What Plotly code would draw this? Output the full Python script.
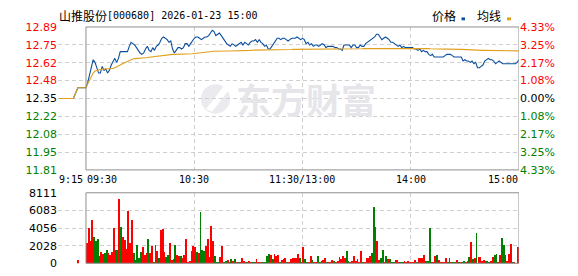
import plotly.graph_objects as go

# ---------------- data ----------------
prev_close = 12.35

# pre-market (9:15-9:30), minutes relative to 9:30
pre_minutes = [-15, -7, -4.5, 0]
pre_price = [12.35, 12.35, 12.43, 12.43]
pre_avg = [12.35, 12.35, 12.43, 12.43]
pre_vol_minute = [-5]
pre_vol = [440]
pre_vol_dir = ["r"]

# trading minutes 0..240 (9:30-11:30 / 13:00-15:00)
minutes = list(range(241))
price = [
    12.43, 12.47, 12.53, 12.60, 12.64, 12.62, 12.58, 12.54, 12.54, 12.59, 12.56, 12.57, 12.54, 12.56, 12.60, 12.63, 12.65, 12.62, 12.65, 12.70,
    12.70, 12.70, 12.70, 12.70, 12.74, 12.77, 12.76, 12.75, 12.73, 12.71, 12.69, 12.68, 12.69, 12.72, 12.74, 12.71, 12.70, 12.73, 12.71, 12.74,
    12.75, 12.77, 12.80, 12.81, 12.80, 12.79, 12.77, 12.78, 12.72, 12.69, 12.71, 12.73, 12.73, 12.72, 12.73, 12.76, 12.76, 12.74, 12.76, 12.78,
    12.80, 12.81, 12.81, 12.80, 12.79, 12.80, 12.81, 12.81, 12.82, 12.84, 12.86, 12.85, 12.82, 12.83, 12.84, 12.82, 12.80, 12.78, 12.76, 12.75,
    12.74, 12.76, 12.75, 12.74, 12.75, 12.76, 12.77, 12.75, 12.77, 12.76, 12.75, 12.77, 12.78, 12.78, 12.79, 12.77, 12.79, 12.77, 12.76, 12.74,
    12.75, 12.72, 12.72, 12.74, 12.76, 12.78, 12.80, 12.80, 12.79, 12.80, 12.80, 12.79, 12.78, 12.79, 12.80, 12.80, 12.80, 12.81, 12.80, 12.79,
    12.80, 12.79, 12.76, 12.77, 12.75, 12.76, 12.74, 12.75, 12.75, 12.74, 12.75, 12.76, 12.75, 12.73, 12.74, 12.74, 12.74, 12.74, 12.73, 12.73,
    12.72, 12.72, 12.71, 12.75, 12.75, 12.75, 12.75, 12.73, 12.75, 12.75, 12.73, 12.73, 12.75, 12.74, 12.74, 12.76, 12.77, 12.78, 12.79, 12.80,
    12.81, 12.83, 12.83, 12.81, 12.79, 12.80, 12.81, 12.80, 12.79, 12.77, 12.77, 12.76, 12.75, 12.74, 12.75, 12.73, 12.74, 12.73, 12.73, 12.73,
    12.73, 12.73, 12.72, 12.72, 12.71, 12.72, 12.70, 12.71, 12.70, 12.70, 12.68, 12.67, 12.68, 12.66, 12.66, 12.66, 12.66, 12.66, 12.66, 12.67,
    12.68, 12.68, 12.68, 12.67, 12.66, 12.66, 12.66, 12.66, 12.66, 12.63, 12.64, 12.63, 12.63, 12.62, 12.63, 12.61, 12.62, 12.58, 12.58, 12.59,
    12.60, 12.63, 12.64, 12.65, 12.64, 12.64, 12.63, 12.61, 12.62, 12.63, 12.62, 12.61, 12.61, 12.61, 12.61, 12.61, 12.61, 12.61, 12.61, 12.62,
    12.64,
]
avg_price = [
    12.43, 12.46, 12.49, 12.52, 12.54, 12.555, 12.56, 12.565, 12.567, 12.568, 12.569, 12.57, 12.57, 12.57, 12.572, 12.575, 12.58, 12.585, 12.59, 12.60,
    12.608, 12.615, 12.62, 12.625, 12.632, 12.64, 12.645, 12.648, 12.65, 12.651, 12.652, 12.653, 12.654, 12.655, 12.656, 12.658, 12.66, 12.662, 12.664, 12.666,
    12.668, 12.67, 12.672, 12.674, 12.676, 12.678, 12.679, 12.68, 12.68, 12.68, 12.68, 12.68, 12.68, 12.68, 12.68, 12.68, 12.681, 12.682, 12.683, 12.684,
    12.686, 12.688, 12.69, 12.692, 12.694, 12.696, 12.698, 12.70, 12.70, 12.701, 12.702, 12.703, 12.703, 12.704, 12.704, 12.705, 12.705, 12.705, 12.705, 12.705,
    12.705, 12.705, 12.705, 12.706, 12.706, 12.707, 12.708, 12.709, 12.709, 12.71, 12.71, 12.71, 12.711, 12.711, 12.712, 12.712, 12.712, 12.713, 12.713, 12.713,
    12.713, 12.713, 12.713, 12.713, 12.713, 12.714, 12.714, 12.714, 12.715, 12.715, 12.715, 12.715, 12.716, 12.716, 12.716, 12.717, 12.717, 12.717, 12.718, 12.718,
    12.718, 12.719, 12.719, 12.72, 12.72, 12.72, 12.72, 12.72, 12.72, 12.72, 12.72, 12.72, 12.72, 12.72, 12.72, 12.72, 12.72, 12.72, 12.72, 12.72,
    12.72, 12.72, 12.72, 12.72, 12.72, 12.721, 12.721, 12.721, 12.721, 12.722, 12.722, 12.722, 12.722, 12.722, 12.723, 12.723, 12.723, 12.724, 12.724, 12.725,
    12.725, 12.726, 12.726, 12.727, 12.727, 12.728, 12.728, 12.728, 12.728, 12.728, 12.728, 12.728, 12.728, 12.728, 12.728, 12.728, 12.728, 12.728, 12.728, 12.728,
    12.728, 12.728, 12.728, 12.728, 12.727, 12.727, 12.727, 12.726, 12.726, 12.725, 12.724, 12.722, 12.721, 12.72, 12.72, 12.72, 12.719, 12.719, 12.719, 12.719,
    12.719, 12.718, 12.718, 12.718, 12.718, 12.718, 12.717, 12.717, 12.717, 12.716, 12.716, 12.715, 12.715, 12.714, 12.714, 12.713, 12.712, 12.711, 12.711, 12.711,
    12.71, 12.71, 12.71, 12.71, 12.71, 12.71, 12.71, 12.71, 12.709, 12.709, 12.709, 12.709, 12.709, 12.708, 12.708, 12.707, 12.706, 12.706, 12.706, 12.706,
    12.706,
]

# per-minute volume bars (240 bars) and direction (r = up, g = down)
volume = [
    2340, 4090, 2630, 4970, 3070, 2630, 2780, 880, 1315, 1070, 1240, 1535, 1240, 950, 1315, 4090, 1610, 1535, 7450, 4160,
    3000, 2700, 1680, 6060, 2410, 4970, 1240, 440, 2150, 580, 1315, 1900, 950, 1240, 2780, 1240, 1970, 220, 2120, 1425,
    690, 3870, 3950, 1315, 800, 990, 2410, 440, 475, 2120, 990, 880, 880, 660, 990, 2780, 150, 330, 1425, 2050,
    1860, 1315, 1170, 5920, 1610, 1425, 1970, 2780, 800, 4280, 2600, 880, 150, 150, 770, 1970, 150, 290, 440, 70,
    510, 330, 510, 220, 150, 70, 660, 330, 150, 70, 330, 220, 110, 110, 550, 110, 110, 110, 110, 110,
    880, 1100, 950, 550, 1100, 880, 990, 220, 400, 550, 660, 150, 150, 510, 660, 660, 660, 1100, 660, 70,
    1860, 510, 220, 150, 880, 440, 70, 70, 880, 150, 290, 365, 660, 220, 70, 70, 440, 290, 70, 330,
    770, 510, 880, 585, 1390, 290, 220, 330, 880, 290, 510, 110, 1390, 150, 220, 660, 660, 880, 1170, 6540,
    4240, 2630, 440, 660, 1535, 220, 880, 510, 510, 220, 110, 440, 440, 110, 110, 110, 330, 110, 330, 220,
    110, 110, 440, 110, 585, 660, 585, 950, 330, 290, 4090, 220, 220, 880, 1020, 440, 220, 110, 220, 660,
    110, 585, 150, 220, 220, 440, 110, 220, 220, 290, 220, 290, 800, 2520, 550, 585, 3500, 800, 800, 290,
    440, 330, 330, 110, 330, 800, 950, 1060, 220, 950, 2960, 2120, 990, 330, 1100, 2300, 110, 70, 50, 1860,
]
vol_dir = [
    "r", "r", "r", "r", "g", "g", "g", "r", "r", "r", "g", "g", "r", "r", "r", "r", "g", "r", "r", "g",
    "r", "r", "r", "r", "r", "r", "g", "g", "g", "g", "g", "r", "r", "r", "g", "r", "r", "g", "r", "r",
    "g", "r", "r", "r", "g", "g", "r", "r", "r", "g", "r", "r", "g", "r", "r", "r", "r", "r", "r", "r",
    "r", "g", "r", "g", "g", "g", "r", "r", "r", "r", "r", "g", "g", "g", "r", "r", "g", "g", "r", "g",
    "g", "r", "g", "r", "g", "r", "r", "r", "g", "r", "r", "r", "g", "g", "r", "r", "r", "g", "g", "r",
    "g", "g", "r", "g", "r", "r", "r", "g", "r", "r", "r", "g", "r", "r", "r", "r", "r", "r", "g", "g",
    "r", "g", "g", "r", "r", "g", "r", "r", "g", "g", "r", "r", "r", "g", "r", "r", "r", "g", "r", "r",
    "r", "r", "r", "r", "g", "g", "r", "r", "r", "r", "g", "r", "r", "g", "r", "r", "r", "r", "g", "g",
    "r", "r", "r", "g", "g", "r", "g", "r", "g", "g", "g", "g", "r", "r", "g", "g", "r", "r", "r", "r",
    "r", "g", "r", "g", "r", "r", "r", "r", "g", "g", "g", "g", "r", "r", "g", "r", "r", "r", "r", "r",
    "g", "r", "r", "g", "g", "r", "g", "r", "g", "g", "r", "r", "g", "r", "g", "r", "g", "r", "r", "r",
    "r", "g", "r", "g", "r", "r", "g", "g", "r", "r", "g", "g", "r", "r", "r", "r", "g", "r", "r", "r",
]

price_tick_vals = [12.885, 12.75125, 12.6175, 12.48375, 12.35, 12.21625, 12.0825, 11.94875, 11.815]
price_tick_text = ["12.89", "12.75", "12.62", "12.48", "12.35", "12.22", "12.08", "11.95", "11.81"]
pct_tick_text = ["4.33%", "3.25%", "2.17%", "1.08%", "0.00%", "1.08%", "2.17%", "3.25%", "4.33%"]
tick_side = ["up", "up", "up", "up", "flat", "down", "down", "down", "down"]
vol_tick_vals = [0, 2028, 4056, 6083, 8111]
vol_tick_text = ["0", "2028", "4056", "6083", "8111"]
time_labels = ["9:15", "09:30", "10:30", "11:30/13:00", "14:00", "15:00"]
time_label_pos = [-15.5, 0, 60, 120, 180, 240]
time_label_anchor = ["left", "left", "center", "center", "center", "right"]
grid_minutes = [-15.5, 60, 120, 180]

title_name = "山推股份"
title_rest = "[000680] 2026-01-23 15:00"
legend_names = ["价格", "均线"]

# ---------------- styles ----------------
BLUE = "#0a4f9f"
ORANGE = "#e0a01c"
RED = "#ff0000"
GREEN = "#008000"
GRID = "#cfcfcf"
BORDER = "#8f8f8f"
side_color = {"up": RED, "flat": "#000000", "down": GREEN}
NUM_FONT = "DejaVu Sans"
MONO = "DejaVu Sans Mono"
CJK = "Noto Sans CJK SC"

W, H = 578, 276
X0, X1 = 58, 519
MAIN_TOP, MAIN_BOT = 22, 172
VOL_TOP, VOL_BOT = 196, 270


def py(px):
    return (H - px) / H


fig = go.Figure()

fig.add_trace(go.Scatter(
    x=pre_minutes + minutes[1:], y=pre_price + price[1:], mode="lines",
    line=dict(color=BLUE, width=1.1), xaxis="x", yaxis="y", hoverinfo="skip"))
fig.add_trace(go.Scatter(
    x=pre_minutes + minutes[1:], y=pre_avg + avg_price[1:], mode="lines",
    line=dict(color=ORANGE, width=1.1), xaxis="x", yaxis="y", hoverinfo="skip"))
# invisible trace to carry the percent axis
fig.add_trace(go.Scatter(x=[0], y=[prev_close], mode="markers", opacity=0,
                         xaxis="x", yaxis="y3", hoverinfo="skip"))

bar_x = [m + 0.5 for m in pre_vol_minute] + [m + 0.5 for m in range(len(volume))]
bar_y = pre_vol + volume
bar_c = [RED if d == "r" else GREEN for d in pre_vol_dir + vol_dir]
fig.add_trace(go.Bar(x=bar_x, y=bar_y, width=0.45, marker=dict(color=bar_c, line=dict(width=0)),
                     xaxis="x2", yaxis="y2", hoverinfo="skip"))

xrange = [-15.5, 240]
xcommon = dict(range=xrange, domain=[X0 / W, X1 / W], showline=False, zeroline=False,
               showticklabels=False, ticks="", tickvals=grid_minutes, showgrid=True,
               gridcolor=GRID, griddash="4px,3px", gridwidth=1, fixedrange=True)

fig.update_layout(
    width=W, height=H, margin=dict(l=0, r=0, t=0, b=0),
    paper_bgcolor="white", plot_bgcolor="white", showlegend=False, bargap=0,
    xaxis=dict(**xcommon, anchor="y"),
    xaxis2=dict(**xcommon, anchor="y2"),
    yaxis=dict(domain=[py(MAIN_BOT), py(MAIN_TOP)], range=[price_tick_vals[-1], price_tick_vals[0]],
               tickvals=price_tick_vals,
               ticktext=[f'<span style="color:{side_color[s]}">{t}</span>' for t, s in zip(price_tick_text, tick_side)],
               tickfont=dict(family=NUM_FONT, size=11), ticks="", showline=False, zeroline=False,
               showgrid=True, gridcolor=GRID, griddash="4px,3px", anchor="x", side="left",
               fixedrange=True),
    yaxis3=dict(overlaying="y", side="right", anchor="x",
                range=[price_tick_vals[-1], price_tick_vals[0]], tickvals=price_tick_vals,
                ticktext=[f'<span style="color:{side_color[s]}">{t}</span>' for t, s in zip(pct_tick_text, tick_side)],
                tickfont=dict(family=NUM_FONT, size=11), ticks="", showline=False, zeroline=False,
                showgrid=False, fixedrange=True),
    yaxis2=dict(domain=[py(VOL_BOT), py(VOL_TOP)], range=[0, 8111], tickvals=vol_tick_vals,
                ticktext=vol_tick_text, tickfont=dict(family=NUM_FONT, size=11, color="#000"),
                ticks="", showline=False, zeroline=False, showgrid=True, gridcolor=GRID,
                griddash="4px,3px", anchor="x2", fixedrange=True),
)

shapes = []
# plot borders (from 09:30 to 15:00)
for ya in ["y domain", "y2 domain"]:
    shapes.append(dict(type="rect", xref="x" if ya == "y domain" else "x2", yref=ya,
                       x0=0, x1=240, y0=0, y1=1, line=dict(color=BORDER, width=1), layer="above"))
# watermark icon
shapes.append(dict(type="circle", xref="paper", yref="paper", x0=201 / W, x1=230 / W,
                   y0=py(113), y1=py(82), fillcolor="#ebebef", line=dict(width=0), layer="below"))
shapes.append(dict(type="path", xref="paper", yref="paper",
                   path=f"M {206/W} {py(108)} L {224/W} {py(84)} L {229/W} {py(88)} L {212/W} {py(111)} Z",
                   fillcolor="white", line=dict(width=0), layer="below"))
# legend markers
shapes.append(dict(type="rect", xref="paper", yref="paper", x0=461.5 / W, x1=465 / W,
                   y0=py(15), y1=py(12), fillcolor=BLUE, line=dict(width=0)))
shapes.append(dict(type="rect", xref="paper", yref="paper", x0=507 / W, x1=511 / W,
                   y0=py(15), y1=py(12), fillcolor=ORANGE, line=dict(width=0)))
fig.update_layout(shapes=shapes)

ann = []
ann.append(dict(text="<b>东方财富</b>", x=306 / W, y=py(97), xref="paper", yref="paper",
                showarrow=False, font=dict(family=CJK, size=35, color="#e6e6ea"),
                xanchor="center", yanchor="middle"))
ann.append(dict(text=title_name, x=58 / W, y=py(10), xref="paper", yref="paper", showarrow=False,
                font=dict(family=CJK, size=12, color="#000"), xanchor="left", yanchor="middle", borderpad=0))
ann.append(dict(text=title_rest, x=106 / W, y=py(10), xref="paper", yref="paper", showarrow=False,
                font=dict(family=MONO, size=10, color="#000"), xanchor="left", yanchor="middle", borderpad=0))
ann.append(dict(text=legend_names[0], x=431 / W, y=py(10), xref="paper", yref="paper", showarrow=False,
                font=dict(family=CJK, size=12, color="#000"), xanchor="left", yanchor="middle", borderpad=0))
ann.append(dict(text=legend_names[1], x=476 / W, y=py(10), xref="paper", yref="paper", showarrow=False,
                font=dict(family=CJK, size=12, color="#000"), xanchor="left", yanchor="middle", borderpad=0))
for lab, pos, anc in zip(time_labels, time_label_pos, time_label_anchor):
    ann.append(dict(text=lab, x=pos, y=py(182), xref="x", yref="paper", showarrow=False,
                    font=dict(family=MONO, size=10, color="#000"), xanchor=anc, yanchor="middle",
                    borderpad=0))
fig.update_layout(annotations=ann)

fig.write_html("out.html")
